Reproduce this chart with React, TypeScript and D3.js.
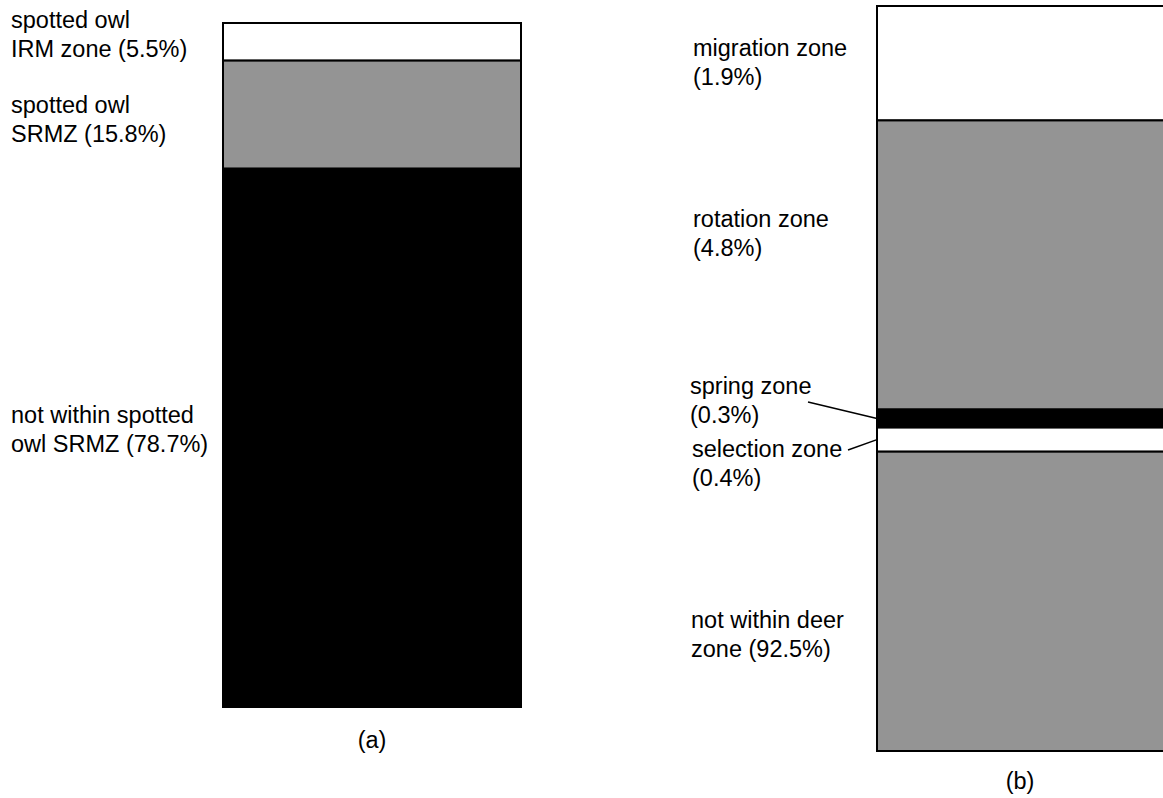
import React from "react";
import * as d3 from "d3";

// ---- data ----
const aCategories = ["spotted owl IRM zone", "spotted owl SRMZ", "not within spotted owl SRMZ"];
const aValues = [5.5, 15.8, 78.7];
const aLabels = [
  ["spotted owl", "IRM zone (5.5%)"],
  ["spotted owl", "SRMZ (15.8%)"],
  ["not within spotted", "owl SRMZ (78.7%)"],
];
const aFills = ["#ffffff", "#949494", "#000000"];

const bCategories = ["migration zone", "rotation zone", "spring zone", "selection zone", "not within deer zone"];
const bValues = [1.9, 4.8, 0.3, 0.4, 92.5];
const bLabels = [
  ["migration zone", "(1.9%)"],
  ["rotation zone", "(4.8%)"],
  ["spring zone", "(0.3%)"],
  ["selection zone", "(0.4%)"],
  ["not within deer", "zone (92.5%)"],
];
const bFills = ["#ffffff", "#949494", "#000000", "#ffffff", "#949494"];
const panelTitles = ["(a)", "(b)"];

// ---- layout ----
const W = 1163;
const H = 798;
const FONT = "Liberation Sans, Arial, Helvetica, sans-serif";
const FS = 23.5;
const LH = 29;
const aLabelBaselines = [28, 113, 423];
const aLabelX = 11;
const bLabelBaselines = [56, 227, 394, 457, 628];
const bLabelX = [693, 693, 690, 692, 691];

function stackSegments(values: number[]) {
  let acc = 0;
  return values.map((v) => {
    const s = { y0: acc, y1: acc + v };
    acc += v;
    return s;
  });
}

export default function App() {
  // Panel a
  const ya = d3.scaleLinear().domain([0, 100]).range([23, 707]);
  const xa = d3.scaleBand().domain(["a"]).range([223, 521]).padding(0);
  const segA = stackSegments(aValues);
  // Panel b (enlarged scale; bottom segment clipped at the bar's bottom)
  const yb = d3.scaleLinear().domain([0, 12.37]).range([6, 751]).clamp(true);
  const xb = d3.scaleBand().domain(["b"]).range([877, 1175]).padding(0);
  const segB = stackSegments(bValues);

  const renderLabel = (lines: string[], x: number, y0: number, key: string) => (
    <text key={key} x={x} fontFamily={FONT} fontSize={FS} fill="#000">
      {lines.map((l, i) => (
        <tspan key={i} x={x} y={y0 + i * LH}>
          {l}
        </tspan>
      ))}
    </text>
  );

  const midB = (i: number) => (yb(segB[i].y0) + yb(segB[i].y1)) / 2;

  return (
    <svg width={W} height={H} style={{ position: "absolute", left: 0, top: 0, background: "#fff" }}>
      {/* Panel a */}
      {segA.map((s, i) => (
        <rect
          key={aCategories[i]}
          x={xa("a")!}
          y={ya(s.y0)}
          width={xa.bandwidth()}
          height={ya(s.y1) - ya(s.y0)}
          fill={aFills[i]}
          stroke="#000"
          strokeWidth={2}
        />
      ))}
      {aLabels.map((lab, i) => renderLabel(lab, aLabelX, aLabelBaselines[i], "al" + i))}
      <text x={xa("a")! + xa.bandwidth() / 2} y={748} textAnchor="middle" fontFamily={FONT} fontSize={FS}>
        {panelTitles[0]}
      </text>

      {/* Panel b */}
      {segB.map((s, i) => (
        <rect
          key={bCategories[i]}
          x={xb("b")!}
          y={yb(s.y0)}
          width={xb.bandwidth()}
          height={yb(s.y1) - yb(s.y0)}
          fill={bFills[i]}
          stroke="#000"
          strokeWidth={2}
        />
      ))}
      {bLabels.map((lab, i) => renderLabel(lab, bLabelX[i], bLabelBaselines[i], "bl" + i))}
      {/* leader lines */}
      <line x1={808} y1={402} x2={xb("b")!} y2={midB(2)} stroke="#000" strokeWidth={1.5} />
      <line x1={848} y1={450} x2={xb("b")!} y2={midB(3)} stroke="#000" strokeWidth={1.5} />
      <text x={1020} y={789} textAnchor="middle" fontFamily={FONT} fontSize={FS}>
        {panelTitles[1]}
      </text>
    </svg>
  );
}
